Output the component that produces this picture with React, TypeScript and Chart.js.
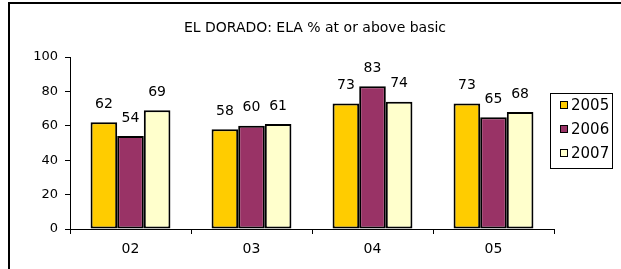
import React, { useEffect, useRef } from "react";
import { Chart, registerables } from "chart.js";

Chart.register(...registerables);

const chartTitle = "EL DORADO: ELA % at or above basic";
const categories = ["02", "03", "04", "05"];
const seriesNames = ["2005", "2006", "2007"];
const values2005 = [62, 58, 73, 73];
const values2006 = [54, 60, 83, 65];
const values2007 = [69, 61, 74, 68];
const seriesColors = ["#FFCC00", "#993366", "#FFFFCC"];
const yTicks = [0, 20, 40, 60, 80, 100];

const FONT = "'DejaVu Sans', Verdana, sans-serif";

const labelsPlugin = {
  id: "extras",
  afterDatasetsDraw(chart: any) {
    const ctx = chart.ctx;
    ctx.save();
    ctx.fillStyle = "#000";
    ctx.font = `14px ${FONT}`;
    ctx.textAlign = "center";
    ctx.textBaseline = "middle";
    chart.data.datasets.forEach((ds: any, di: number) => {
      const meta = chart.getDatasetMeta(di);
      meta.data.forEach((el: any, i: number) => {
        ctx.fillText(String(ds.data[i]), el.x, el.y - 18);
      });
    });
    ctx.restore();
  },
  afterDraw(chart: any) {
    const ctx = chart.ctx;
    ctx.save();
    // title
    ctx.fillStyle = "#000";
    ctx.font = `14px ${FONT}`;
    ctx.textAlign = "center";
    ctx.textBaseline = "middle";
    ctx.fillText(chartTitle, 315, 28);
    // legend
    const lx = 550, ly = 93, lw = 62, lh = 75;
    ctx.strokeStyle = "#000";
    ctx.lineWidth = 1;
    ctx.strokeRect(lx + 0.5, ly + 0.5, lw, lh);
    ctx.font = `15px ${FONT}`;
    ctx.textAlign = "left";
    chart.data.datasets.forEach((ds: any, di: number) => {
      const cy = ly + 12 + di * 24;
      ctx.fillStyle = ds.backgroundColor;
      ctx.fillRect(lx + 10, cy - 4, 8, 8);
      ctx.strokeRect(lx + 10.5, cy - 3.5, 7, 7);
      ctx.fillStyle = "#000";
      ctx.fillText(ds.label, lx + 21, cy + 1);
    });
    ctx.restore();
  },
};

export default function App() {
  const ref = useRef<HTMLCanvasElement>(null);
  useEffect(() => {
    document.body.style.margin = "0";
    const series = [values2005, values2006, values2007];
    const chart = new Chart(ref.current as HTMLCanvasElement, {
      type: "bar",
      data: {
        labels: categories,
        datasets: series.map((d, i) => ({
          label: seriesNames[i],
          data: d,
          backgroundColor: seriesColors[i],
          borderColor: "#000",
          borderWidth: 2,
          borderSkipped: false,
          barPercentage: 1,
          categoryPercentage: 0.66,
        })),
      },
      options: {
        responsive: false,
        animation: false,
        layout: { padding: { left: 8, right: 67, top: 57, bottom: 10 } },
        plugins: {
          legend: { display: false },
          title: { display: false },
          tooltip: { enabled: false },
        },
        scales: {
          x: {
            afterFit: (s: any) => { s.height = 30; },
            border: { display: true, color: "#000", width: 1 },
            grid: { offset: true, drawOnChartArea: false, drawTicks: true, tickLength: 5, color: "#000" },
            ticks: { color: "#000", font: { family: FONT, size: 14 }, padding: 7 },
          },
          y: {
            min: 0,
            max: 100,
            afterFit: (s: any) => { s.width = 62; },
            afterBuildTicks: (s: any) => { s.ticks = yTicks.map((v) => ({ value: v })); },
            border: { display: true, color: "#000", width: 1 },
            grid: { drawOnChartArea: false, drawTicks: true, tickLength: 5, color: "#000" },
            ticks: { color: "#000", font: { family: FONT, size: 13 }, padding: 7 },
          },
        },
      },
      plugins: [labelsPlugin],
    });
    return () => chart.destroy();
  }, []);
  return (
    <div style={{ position: "relative", width: 621, height: 269, overflow: "hidden", background: "#fff" }}>
      <div
        style={{
          position: "absolute",
          left: 8,
          top: 2,
          width: 800,
          height: 400,
          borderLeft: "2px solid #000",
          borderTop: "2px solid #000",
        }}
      />
      <canvas ref={ref} width={621} height={269} style={{ position: "absolute", left: 0, top: 0 }} />
    </div>
  );
}
